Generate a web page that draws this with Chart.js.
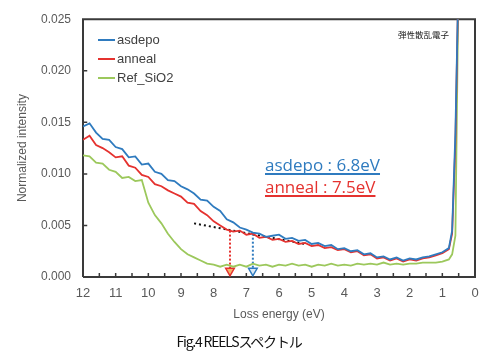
<!DOCTYPE html>
<html>
<head>
<meta charset="utf-8">
<script src="https://cdn.jsdelivr.net/npm/chart.js@4.4.1/dist/chart.umd.min.js"></script>
<style>
  body { margin: 0; background: #fff; }
  #wrap { position: relative; width: 489px; height: 351px; }
  #caption { position: absolute; left: 0; width: 478px; top: 331px; text-align: center;
    font: 14px "Noto Sans CJK JP", "DejaVu Sans", sans-serif; letter-spacing: -1.2px; color: #111; }
</style>
</head>
<body>
<div id="wrap">
  <canvas id="reels" width="489" height="351"></canvas>
  <div id="caption">Fig.4 REELSスペクトル</div>
</div>
<script>
// loss energy (eV), every 0.2 eV, plus the elastic peak edge
const energies = [12.0, 11.8, 11.6, 11.4, 11.2, 11.0, 10.8, 10.6, 10.4, 10.2,
  10.0, 9.8, 9.6, 9.4, 9.2, 9.0, 8.8, 8.6, 8.4, 8.2,
  8.0, 7.8, 7.6, 7.4, 7.2, 7.0, 6.8, 6.6, 6.4, 6.2,
  6.0, 5.8, 5.6, 5.4, 5.2, 5.0, 4.8, 4.6, 4.4, 4.2,
  4.0, 3.8, 3.6, 3.4, 3.2, 3.0, 2.8, 2.6, 2.4, 2.2,
  2.0, 1.8, 1.6, 1.4, 1.2, 1.0, 0.8, 0.7, 0.6, 0.5];

const asdepo = [0.0146, 0.0149, 0.0140, 0.0134, 0.0133, 0.0126, 0.0124, 0.0116, 0.0117, 0.0109,
  0.0110, 0.0102, 0.0100, 0.0094, 0.0093, 0.0088, 0.0085, 0.0081, 0.0075, 0.0074,
  0.0068, 0.0064, 0.0056, 0.0053, 0.0048, 0.0046, 0.0043, 0.0042, 0.0039, 0.0040,
  0.0041, 0.0037, 0.0038, 0.0035, 0.0036, 0.0032, 0.0033, 0.0030, 0.0031, 0.0027,
  0.0028, 0.0025, 0.0026, 0.0022, 0.0023, 0.0019, 0.0020, 0.0017, 0.0019, 0.0016,
  0.0018, 0.0017, 0.0019, 0.0020, 0.0022, 0.0024, 0.0028, 0.0045, 0.0140, 0.0300];

const anneal = [0.0133, 0.0137, 0.0128, 0.0125, 0.0121, 0.0116, 0.0117, 0.0108, 0.0106, 0.0099,
  0.0097, 0.0090, 0.0088, 0.0084, 0.0081, 0.0078, 0.0072, 0.0071, 0.0064, 0.0060,
  0.0054, 0.0050, 0.0046, 0.0044, 0.0045, 0.0041, 0.0042, 0.0038, 0.0039, 0.0036,
  0.0037, 0.0034, 0.0035, 0.0032, 0.0033, 0.0030, 0.0031, 0.0028, 0.0029, 0.0026,
  0.0027, 0.0024, 0.0025, 0.0021, 0.0022, 0.0018, 0.0019, 0.0016, 0.0018, 0.0015,
  0.0017, 0.0016, 0.0018, 0.0019, 0.0021, 0.0023, 0.0027, 0.0042, 0.0130, 0.0300];

const refSiO2 = [0.0118, 0.0117, 0.0111, 0.0110, 0.0104, 0.0102, 0.0096, 0.0097, 0.0093, 0.0094,
  0.0072, 0.0060, 0.0052, 0.0042, 0.0034, 0.0027, 0.0022, 0.0019, 0.0016, 0.0013,
  0.0012, 0.0010, 0.0012, 0.0010, 0.0012, 0.0010, 0.0013, 0.0011, 0.0012, 0.0010,
  0.0012, 0.0011, 0.0013, 0.0011, 0.0012, 0.0010, 0.0012, 0.0011, 0.0013, 0.0011,
  0.0012, 0.0011, 0.0013, 0.0012, 0.0013, 0.0012, 0.0014, 0.0012, 0.0013, 0.0012,
  0.0013, 0.0013, 0.0014, 0.0014, 0.0014, 0.0015, 0.0017, 0.0022, 0.0040, 0.0300];

// onset estimate: tangent line and the two onset energies
const tangentE = [8.6, 5.2];
const tangentY = [0.0052, 0.0032];
const onsetAsdepo = 6.8;
const onsetAnneal = 7.5;

// axis limits and ticks
const xMin = 0, xMax = 12;
const yMin = 0, yMax = 0.025;
const yTicks = [0, 0.005, 0.010, 0.015, 0.020, 0.025];
const xMinorTicks = [0.5, 1, 1.5, 2, 2.5, 3, 3.5, 4, 4.5, 5, 5.5, 6, 6.5, 7, 7.5, 8, 8.5, 9, 9.5, 10, 10.5, 11, 11.5];

const BLUE = '#2f7bbf';
const RED = '#e5322f';
const GREEN = '#9cc85c';
const FRAME = '#3a3a3a';

function pts(ys) {
    return energies.map((e, i) => ({ x: e, y: ys[i] }));
}

// plot box as a closed line over the axis limits
const boxPts = [{ x: xMax, y: yMin }, { x: xMax, y: yMax }, { x: xMin, y: yMax }, { x: xMin, y: yMin }, { x: xMax, y: yMin }];

// short inward tick marks, separated by gaps
const tickPts = [];
xMinorTicks.forEach(e => {
    tickPts.push({ x: e, y: yMin }, { x: e, y: yMin + 0.0004 }, { x: e, y: null });
});
yTicks.forEach(v => {
    tickPts.push({ x: xMax, y: v }, { x: xMax - 0.13, y: v }, { x: xMax - 0.13, y: null });
});

const overlay = {
    id: 'overlay',
    afterDraw(chart) {
        const ctx = chart.ctx;
        ctx.save();

        // legend inside the plot
        const items = [['asdepo', BLUE], ['anneal', RED], ['Ref_SiO2', GREEN]];
        ctx.font = '13px "Liberation Sans", Arial, sans-serif';
        ctx.textBaseline = 'middle';
        items.forEach((it, i) => {
            const yy = 40 + i * 19;
            ctx.fillStyle = it[1];
            ctx.fillRect(98, yy - 1, 17, 2);
            ctx.fillStyle = '#404040';
            ctx.fillText(it[0], 117, yy);
        });

        // elastic peak note
        ctx.font = '8.5px "Noto Sans CJK JP", sans-serif';
        ctx.fillStyle = '#222';
        ctx.fillText('弾性散乱電子', 398, 35);

        // onset labels, underlined
        ctx.font = '17px "Open Sans", "Noto Sans", sans-serif';
        ctx.textBaseline = 'alphabetic';
        [['asdepo : 6.8eV', BLUE, 171], ['anneal : 7.5eV', RED, 193]].forEach(t => {
            ctx.fillStyle = t[1];
            ctx.fillText(t[0], 265, t[2]);
            const w = ctx.measureText(t[0]).width;
            ctx.fillRect(265, t[2] + 2, w, 2);
        });
        ctx.restore();
    }
};

new Chart(document.getElementById('reels'), {
    type: 'line',
    data: {
        datasets: [
            { label: 'asdepo', data: pts(asdepo), borderColor: BLUE, borderWidth: 1.8 },
            { label: 'anneal', data: pts(anneal), borderColor: RED, borderWidth: 1.8 },
            { label: 'Ref_SiO2', data: pts(refSiO2), borderColor: GREEN, borderWidth: 1.8 },
            {
                label: 'tangent', data: tangentE.map((e, i) => ({ x: e, y: tangentY[i] })),
                borderColor: '#111', borderWidth: 2, borderDash: [2, 3]
            },
            {
                label: 'onset anneal', data: [{ x: onsetAnneal, y: 0.0045 }, { x: onsetAnneal, y: 0.0006 }],
                borderColor: RED, borderWidth: 2, borderDash: [2, 2],
                pointRadius: [0, 5], pointStyle: 'triangle', rotation: 180,
                pointBackgroundColor: '#f6b26b', pointBorderColor: RED, pointBorderWidth: 1.5
            },
            {
                label: 'onset asdepo', data: [{ x: onsetAsdepo, y: 0.0042 }, { x: onsetAsdepo, y: 0.0006 }],
                borderColor: BLUE, borderWidth: 2, borderDash: [2, 2],
                pointRadius: [0, 5], pointStyle: 'triangle', rotation: 180,
                pointBackgroundColor: '#dbe9f6', pointBorderColor: BLUE, pointBorderWidth: 1.5
            },
            { label: 'ticks', data: tickPts, borderColor: FRAME, borderWidth: 1.5, spanGaps: false },
            { label: 'box', data: boxPts, borderColor: FRAME, borderWidth: 2, clip: false }
        ]
    },
    options: {
        responsive: false,
        animation: false,
        layout: { padding: { left: 0, top: 14, right: 14, bottom: 26 } },
        elements: { point: { radius: 0 }, line: { tension: 0 } },
        plugins: { legend: { display: false }, tooltip: { enabled: false } },
        scales: {
            x: {
                type: 'linear', reverse: true, min: xMin, max: xMax,
                afterFit: s => { s.height = 48; },
                grid: { display: false, drawTicks: false },
                border: { display: false },
                ticks: { stepSize: 1, padding: 9, color: '#595959',
                    font: { size: 13, family: '"Liberation Sans", Arial, sans-serif' } },
                title: { display: true, text: 'Loss energy (eV)', color: '#595959', padding: { top: 0, bottom: 3 },
                    font: { size: 12, family: '"Liberation Sans", Arial, sans-serif' } }
            },
            y: {
                min: yMin, max: yMax,
                afterFit: s => { s.width = 83; },
                afterBuildTicks: s => { s.ticks = yTicks.map(v => ({ value: v })); },
                grid: { display: false, drawTicks: false },
                border: { display: false },
                ticks: { padding: 12, color: '#595959', callback: v => v.toFixed(3),
                    font: { size: 12, family: '"Liberation Sans", Arial, sans-serif' } },
                title: { display: true, text: 'Normalized intensity', color: '#595959', padding: { top: 15, bottom: 0 },
                    font: { size: 12, family: '"Liberation Sans", Arial, sans-serif' } }
            }
        }
    },
    plugins: [overlay]
});
</script>
</body>
</html>
